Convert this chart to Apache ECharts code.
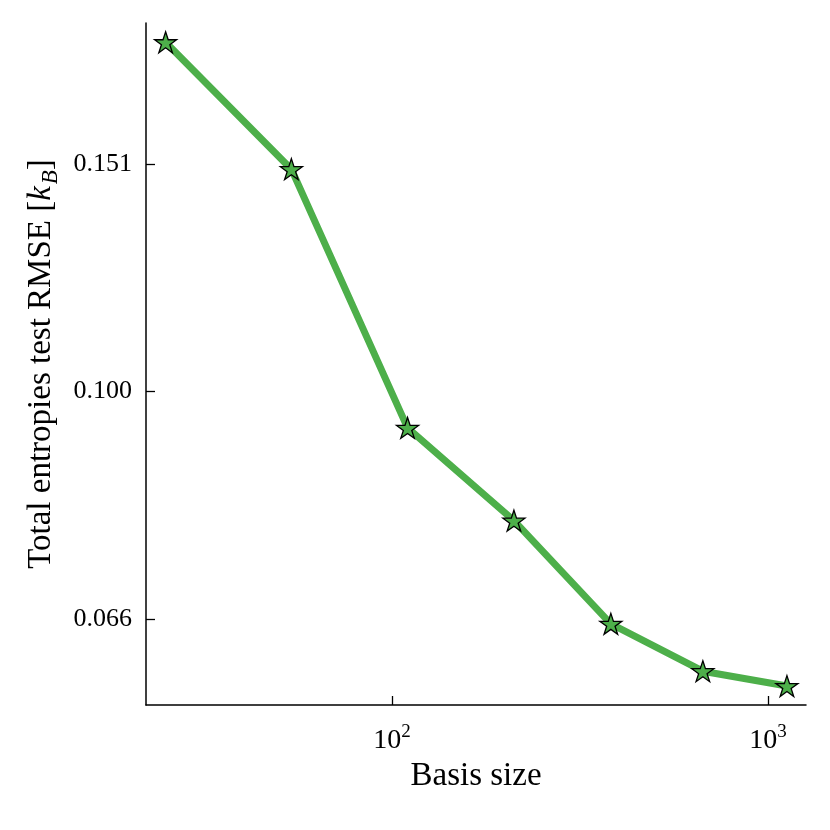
<!DOCTYPE html>
<html>
<head>
<meta charset="utf-8">
<script src="https://cdn.jsdelivr.net/npm/echarts@6/dist/echarts.min.js"></script>
<style>html,body{margin:0;padding:0;background:#fff}#c{width:830px;height:830px}</style>
</head>
<body>
<div id="c"></div>
<script>
// Data
var basisSize = [25, 54, 110, 211, 382, 671, 1123];
var rmse = [0.1884, 0.1496, 0.0935, 0.0790, 0.0655, 0.0601, 0.0585];
var yTickValues = [0.066, 0.100, 0.151];
var xTickValues = [100, 1000];
var xLabel = 'Basis size';
var yLabelMain = 'Total entropies test RMSE [';

// five-pointed star symbol (shape only)
function starPath() {
  var pts = [];
  for (var i = 0; i < 10; i++) {
    var r = (i % 2 === 0) ? 1 : 0.382;
    var a = -Math.PI / 2 + i * Math.PI / 5;
    pts.push((r * Math.cos(a)).toFixed(4) + ',' + (r * Math.sin(a)).toFixed(4));
  }
  return 'path://M' + pts.join('L') + 'Z';
}

var FONT = '"Liberation Serif", "DejaVu Serif", serif';
var green = '#4daf4a';
var chart = echarts.init(document.getElementById('c'), null, {renderer: 'canvas'});
var data = basisSize.map(function (x, i) { return [x, rmse[i]]; });

chart.setOption({
  animation: false,
  backgroundColor: '#fff',
  grid: {left: 146, right: 24, top: 23, bottom: 125, containLabel: false},
  xAxis: {
    type: 'log', logBase: 10, min: 22.17, max: 1262,
    name: xLabel, nameLocation: 'middle', nameGap: 55,
    nameTextStyle: {fontFamily: FONT, fontSize: 33, color: '#000'},
    axisLine: {show: true, lineStyle: {color: '#000', width: 1.5}},
    axisTick: {show: true, inside: false, length: -9, customValues: xTickValues, lineStyle: {color: '#000', width: 1.3}},
    minorTick: {show: false},
    splitLine: {show: false},
    axisLabel: {
      customValues: xTickValues, margin: 18, color: '#000',
      fontFamily: FONT,
      formatter: function (v) { return '{b|10}{s|' + Math.round(Math.log10(v)) + '}'; },
      rich: {
        b: {fontFamily: FONT, fontSize: 28, color: '#000', verticalAlign: 'bottom'},
        s: {fontFamily: FONT, fontSize: 19, color: '#000', verticalAlign: 'bottom', padding: [0, 0, 13, 0]}
      }
    }
  },
  yAxis: {
    type: 'log', logBase: 10, min: 0.05652, max: 0.1951,
    name: '{n|' + yLabelMain + '}{i|k}{sub|B}{n|]}',
    nameLocation: 'middle', nameGap: 81, nameRotate: 90,
    nameTextStyle: {
      fontFamily: FONT, fontSize: 33, color: '#000',
      rich: {
        n: {fontFamily: FONT, fontSize: 33, color: '#000', verticalAlign: 'bottom', padding: [0, 0, 5, 0]},
        i: {fontFamily: FONT, fontSize: 33, fontStyle: 'italic', color: '#000', verticalAlign: 'bottom', padding: [0, 0, 5, 0]},
        sub: {fontFamily: FONT, fontSize: 23, fontStyle: 'italic', color: '#000', verticalAlign: 'bottom', padding: [0, 0, 0, 2]}
      }
    },
    axisLine: {show: true, lineStyle: {color: '#000', width: 1.5}},
    axisTick: {show: true, inside: false, length: -9, customValues: yTickValues, lineStyle: {color: '#000', width: 1.3}},
    minorTick: {show: false},
    splitLine: {show: false},
    axisLabel: {
      customValues: yTickValues, margin: 14, color: '#000',
      fontFamily: FONT, fontSize: 26,
      formatter: function (v) { return Number(v).toFixed(3); }
    }
  },
  series: [{
    type: 'line',
    data: data,
    lineStyle: {color: green, width: 7},
    symbol: starPath(),
    symbolSize: 22,
    symbolKeepAspect: true,
    itemStyle: {color: green, borderColor: '#000', borderWidth: 1.3},
    z: 3
  }]
});
</script>
</body>
</html>
